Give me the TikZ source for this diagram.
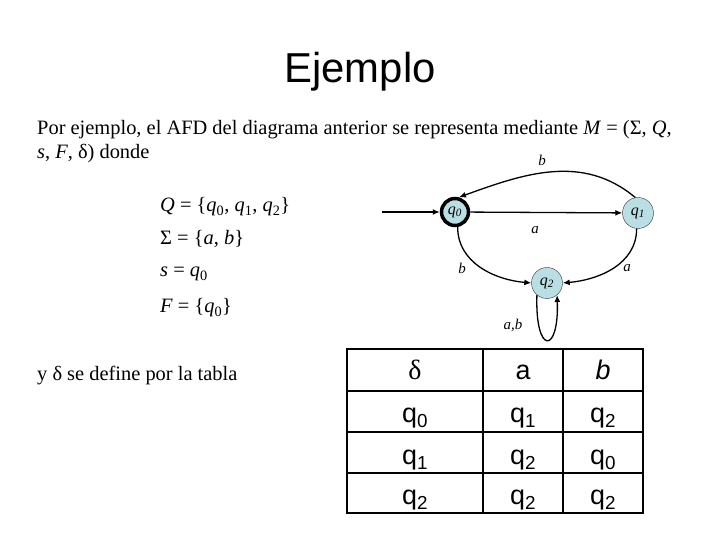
\documentclass[tikz,border=0pt]{standalone}
\usepackage{fontspec}
\setmainfont{Liberation Serif}
\setsansfont{Liberation Sans}
\usetikzlibrary{arrows.meta}
\definecolor{estadoazul}{RGB}{185,222,228}

\begin{document}
\begin{tikzpicture}[
    x=1bp, y=1bp,
    state node/.style={circle, draw=black!80, fill=estadoazul, inner sep=0pt, minimum size=31bp, font=\fontsize{16}{16}\selectfont\itshape},
    final node/.style={state node, draw=black, line width=3.5bp, minimum size=27bp},
    trans edge/.style={line width=1.3bp, -{Latex[length=7bp,width=6bp]}},
    edge label/.style={font=\fontsize{15}{15}\selectfont\itshape, inner sep=0pt},
    body text/.style={anchor=base west, inner sep=0pt, font=\fontsize{20.5}{24}\selectfont},
    set text/.style={anchor=base west, inner sep=0pt, font=\fontsize{20.5}{24}\selectfont},
    cell text/.style={anchor=base, inner sep=0pt, font=\sffamily\fontsize{27}{27}\selectfont},
    grid line/.style={line width=1.6bp},
    border line/.style={line width=2.6bp}
]
\useasboundingbox (0,0) rectangle (720,540);

% Titulo y texto
\node[anchor=base, inner sep=0pt, font=\sffamily\fontsize{42}{42}\selectfont] (titulo) at (360,457) {Ejemplo};
\node[body text] (par1) at (37,405) {Por ejemplo, el AFD del diagrama anterior se representa mediante \textit{M} = (Σ, \textit{Q},};
\node[body text] (par2) at (37,381) {\textit{s}, \textit{F}, δ) donde};

\node[set text] (conjQ) at (160,328) {\textit{Q} = \{\textit{q}\textsubscript{0}, \textit{q}\textsubscript{1}, \textit{q}\textsubscript{2}\}};
\node[set text] (sigma) at (160,295) {Σ = \{\textit{a}, \textit{b}\}};
\node[set text] (inicial) at (160,263) {\textit{s} = \textit{q}\textsubscript{0}};
\node[set text] (finales) at (160,227) {\textit{F} = \{\textit{q}\textsubscript{0}\}};

\node[body text] (deltatxt) at (37,159) {y δ se define por la tabla};

% Automata
\node[final node] (q0) at (455,328) {q\textsubscript{0}};
\node[state node] (q1) at (638,327) {q\textsubscript{1}};
\node[state node] (q2) at (547,257) {q\textsubscript{2}};
\coordinate (ini) at (382,328);

\draw[trans edge] (ini) -- (q0);
\draw[trans edge] (q0) -- (q1);
\draw[trans edge] (q1.100) to[out=140, in=20] (q0.75);
\draw[trans edge] (q0.-80) to[out=-90, in=175] (q2.west);
\draw[trans edge] (q1.-95) to[out=-90, in=5] (q2.east);
\draw[trans edge] (q2.230) .. controls +(-2,-60) and +(2,-60) .. (q2.310);

\node[edge label] (lb1) at (542,380) {b};
\node[edge label] (la1) at (535,310) {a};
\node[edge label] (lb2) at (462,272) {b};
\node[edge label] (la2) at (627,272) {a};
\node[edge label] (lab) at (513,215) {a,b};

% Tabla de transiciones
\draw[border line] (347,27) rectangle (643,191);
\foreach \yl in {67,108,149} \draw[grid line] (347,\yl) -- (643,\yl);
\foreach \xl in {483,563} \draw[grid line] (\xl,27) -- (\xl,191);

\node[cell text, font=\fontsize{28}{28}\selectfont] (hdelta) at (415,160) {δ};
\node[cell text] (ha) at (523,160) {a};
\node[cell text] (hb) at (603,160) {\textit{b}};
\foreach \fila/\yb/\sa/\sb in {0/117/1/2, 1/75/2/0, 2/35/2/2} {
  \node[cell text] (est\fila) at (415,\yb) {q\textsubscript{\fila}};
  \node[cell text] (ca\fila) at (523,\yb) {q\textsubscript{\sa}};
  \node[cell text] (cb\fila) at (603,\yb) {q\textsubscript{\sb}};
}

\end{tikzpicture}
\end{document}
